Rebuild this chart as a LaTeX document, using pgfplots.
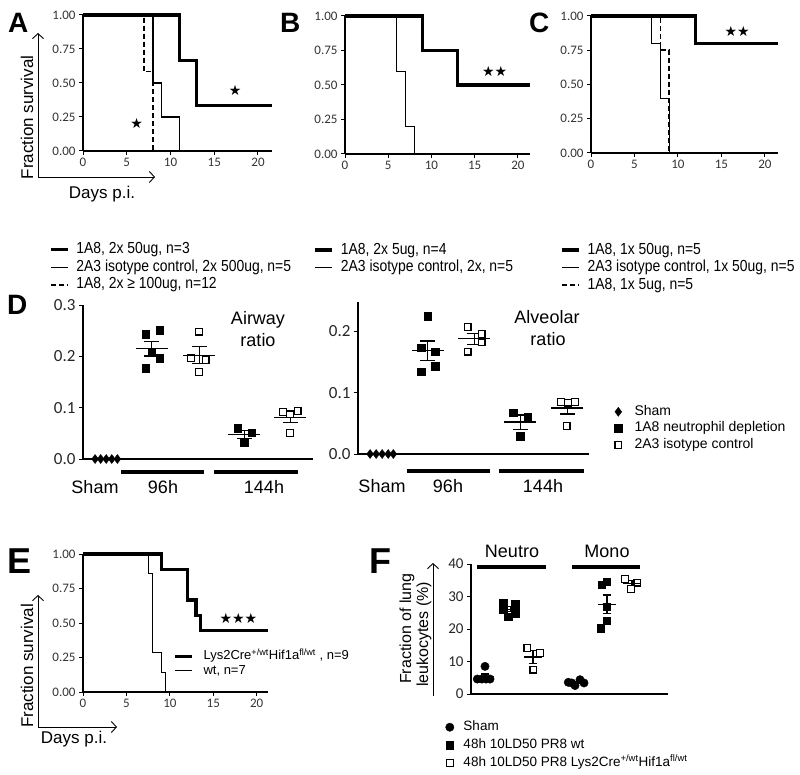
\documentclass[border=0pt]{standalone}
\usepackage{fontspec}
\usepackage{pgfplots}
\pgfplotsset{compat=1.18}
\usetikzlibrary{arrows.meta}
\setmainfont{Liberation Sans}
\newfontfamily\tickfont{Carlito}
\newfontfamily\narrowfont[FakeStretch=0.87]{Liberation Sans}
\newfontfamily\symfont{DejaVu Sans}
\newcommand{\fs}[1]{\fontsize{#1}{#1}\selectfont}

\pgfplotsset{
  baseax/.style={
    scale only axis, anchor=south west, clip=false,
    axis lines=left, axis line style={-, line width=1.1pt, black},
    tick align=outside, major tick length=4pt,
    tick style={line width=1pt, black},
    /pgf/number format/assume math mode=true,
    legend cell align=left,
  },
  surv/.style={
    baseax, xmin=0, ymin=0, ymax=1,
    xtick={0,5,10,15,20}, ytick={0,0.25,0.5,0.75,1},
    yticklabel style={/pgf/number format/fixed, /pgf/number format/fixed zerofill, /pgf/number format/precision=2},
    ticklabel style={font=\tickfont\fs{13}, text=black!80},
    legend style={draw=none, fill=none, inner sep=0pt, anchor=north west,
      font=\narrowfont\fs{16}, row sep=0.5pt,
      nodes={inner sep=1pt, text height=11.5pt, text depth=3.5pt},
      /tikz/every odd column/.append style={column sep=6pt}},
    legend image code/.code={\draw[#1] (0pt,0pt) -- (17pt,0pt);},
  },
  thk/.style={const plot, black, line width=3.2pt, mark=none},
  thn/.style={const plot, black, line width=1.1pt, mark=none},
  dsh/.style={const plot, black, line width=1.6pt, dash pattern=on 5pt off 3pt, mark=none},
  dotax/.style={
    baseax, xtick=\empty, ymin=0,
    yticklabel style={/pgf/number format/fixed, /pgf/number format/fixed zerofill, /pgf/number format/precision=1},
    ticklabel style={font=\tickfont\fs{17}, text=black!85},
    legend style={draw=none, fill=none, inner sep=0pt, anchor=north west,
      font=\fs{14}, row sep=2.5pt,
      nodes={inner sep=0.5pt, text height=10pt, text depth=3pt},
      /tikz/every odd column/.append style={column sep=12pt}},
    legend image code/.code={\draw[mark repeat=2, mark phase=2, #1] plot coordinates {(0pt,0pt) (5pt,0pt) (10pt,0pt)};},
  },
  shamD/.style={only marks, mark=diamond*, mark size=4.5pt, black},
  shamC/.style={only marks, mark=*, mark size=4.2pt, black},
  fillS/.style={only marks, mark=square*, mark size=3.7pt, black},
  openS/.style={only marks, mark=square*, mark size=3.4pt, mark options={fill=white, draw=black, line width=1.2pt}},
  meanbar/.style 2 args={only marks, forget plot, black, mark=-, mark size=#1, mark options={line width=1.3pt},
     error bars/.cd, y dir=both, y explicit, error bar style={line width=1.2pt, black},
     error mark options={black, line width=1.2pt, mark size=#2, rotate=90}},
}

\begin{document}
\begin{tikzpicture}
\useasboundingbox (0pt,0pt) rectangle (800pt,-775pt);

% ---------------- A
\begin{axis}[surv, at={(83pt,-151pt)}, width=189pt, height=136pt, xmax=21.6,
  legend style={at={(-0.18,-0.663)}}]
\addplot[thk] coordinates {(0,1) (11,0.6667) (13,0.3333) (21.6,0.3333)};
\addlegendentry{1A8, 2x 50ug, n=3}
\addplot[thn] coordinates {(0,1) (8,0.5) (9,0.25) (11,0)};
\addlegendentry{2A3 isotype control, 2x 500ug, n=5}
\addplot[dsh] coordinates {(0,1) (7,0.5833) (8,0)};
\addlegendentry{1A8, 2x ≥ 100ug, n=12}
\node[font=\symfont\fs{14}] at (axis cs:17.4,0.443) {★};
\node[font=\symfont\fs{14}] at (axis cs:6.13,0.2) {★};
\end{axis}

% ---------------- B
\begin{axis}[surv, at={(345pt,-154pt)}, width=185pt, height=138pt, xmax=21.4,
  legend style={at={(-0.17,-0.633)}}]
\addplot[thk] coordinates {(0,1) (9,0.75) (13,0.5) (21.4,0.5)};
\addlegendentry{1A8, 2x 5ug, n=4}
\addplot[thn] coordinates {(0,1) (6,0.6) (7,0.2) (8,0)};
\addlegendentry{2A3 isotype control, 2x, n=5}
\node[font=\symfont\fs{14}] at (axis cs:17.3,0.6) {★★};
\end{axis}

% ---------------- C
\begin{axis}[surv, at={(591pt,-153pt)}, width=187pt, height=137pt, xmax=21.5,
  legend style={at={(-0.165,-0.645)}}]
\addplot[thk] coordinates {(0,1) (12,0.8) (21.5,0.8)};
\addlegendentry{1A8, 1x 50ug, n=5}
\addplot[thn] coordinates {(0,1) (7,0.8) (8,0.4) (9,0)};
\addlegendentry{2A3 isotype control, 1x 50ug, n=5}
\addplot[dsh] coordinates {(0,1) (8,0.75) (9,0)};
\addlegendentry{1A8, 1x 5ug, n=5}
\node[font=\symfont\fs{14}] at (axis cs:16.8,0.885) {★★};
\end{axis}

% ---------------- D airway
\begin{axis}[dotax, at={(83pt,-459pt)}, width=230pt, height=154pt,
  xmin=-0.5, xmax=4.45, ymax=0.3, ytick={0,0.1,0.2,0.3}]
\addplot[shamD] coordinates {(-0.24,0) (-0.12,0) (0,0) (0.12,0) (0.24,0)};
\addplot[fillS] coordinates {(0.853,0.243) (1.146,0.251) (0.983,0.207) (1.146,0.196) (0.853,0.177)
  (2.83,0.060) (3.13,0.051) (2.97,0.032)};
\addplot[openS] coordinates {(2.0,0.248) (1.82,0.196) (2.14,0.193) (2.0,0.170)
  (3.81,0.092) (4.12,0.093) (3.96,0.087) (3.96,0.051)};
\addplot[meanbar={16pt}{7.5pt}] coordinates {(0.98,0.2148) +- (0,0.0141) (2.0,0.202) +- (0,0.0164)
  (2.97,0.0477) +- (0,0.0082) (3.96,0.081) +- (0,0.0101)};
\end{axis}

% ---------------- D alveolar
\begin{axis}[dotax, at={(358pt,-454pt)}, width=231pt, height=152pt,
  xmin=-0.52, xmax=4.45, ymax=0.248, ytick={0,0.1,0.2},
  legend style={at={(1.11,0.325)}}]
\addplot[shamD] coordinates {(-0.26,0) (-0.13,0) (0,0) (0.13,0) (0.24,0)};
\addlegendentry{Sham}
\addplot[fillS] coordinates {(0.98,0.225) (0.84,0.173) (1.14,0.167) (1.14,0.143) (0.84,0.134)
  (2.82,0.067) (3.13,0.060) (2.97,0.029)};
\addlegendentry{1A8 neutrophil depletion}
\addplot[openS] coordinates {(1.84,0.207) (2.14,0.196) (2.14,0.182) (1.84,0.167)
  (3.85,0.085) (4.15,0.085) (4.0,0.084) (3.97,0.046)};
\addlegendentry{2A3 isotype control}
\addplot[meanbar={16pt}{7.5pt}] coordinates {(0.98,0.1684) +- (0,0.0159) (1.98,0.188) +- (0,0.0087)
  (2.97,0.052) +- (0,0.0117) (3.98,0.075) +- (0,0.0097)};
\end{axis}

% ---------------- E
\begin{axis}[surv, at={(83pt,-692pt)}, width=185pt, height=138pt, xmax=21.3,
  legend style={at={(0.49,0.312)}, font=\fs{13}, row sep=0.5pt,
    nodes={inner sep=0.5pt, text height=10pt, text depth=3pt},
    /tikz/every odd column/.append style={column sep=9pt}}]
\addplot[thk] coordinates {(0,1) (9,0.8889) (12,0.6667) (13,0.5556) (13.5,0.4444) (21.3,0.4444)};
\addlegendentry{Lys2Cre\textsuperscript{+/wt}Hif1a\textsuperscript{fl/wt} , n=9}
\addplot[thn] coordinates {(0,1) (7.5,0.8571) (8,0.2857) (9,0.1429) (9.5,0)};
\addlegendentry{wt, n=7}
\node[font=\symfont\fs{14}] at (axis cs:17.9,0.536) {★★★};
\end{axis}

% ---------------- F
\begin{axis}[dotax, at={(471pt,-694pt)}, width=197pt, height=130pt,
  xmin=0, xmax=197, ymax=40, ytick={0,10,20,30,40},
  yticklabel style={/pgf/number format/precision=0},
  ticklabel style={font=\tickfont\fs{15}},
  legend style={at={(-0.13,-0.2)}, font=\fs{13.5}, row sep=4pt,
    /tikz/every odd column/.append style={column sep=9pt}}]
\addplot[shamC] coordinates {(6.3,4.6) (10.7,4.6) (15,4.6) (19,4.6) (14,8.5)
  (97.3,3.6) (100.7,3.4) (104,2.6) (109,4.4) (113,3.4)};
\addlegendentry{Sham}
\addplot[fillS] coordinates {(32.3,28.1) (44,27.6) (32.3,26.1) (44,24.9) (37.3,23.8)
  (130.7,33.6) (135.7,34.6) (135.7,26.9) (135.7,22.6) (129.7,20.3)};
\addlegendentry{48h 10LD50 PR8 wt}
\addplot[openS] coordinates {(56.3,14.1) (69,12.6) (62.3,7.5) (154,35.3) (166.3,34.3) (160,32.4)};
\addlegendentry{48h 10LD50 PR8 Lys2Cre\textsuperscript{+/wt}Hif1a\textsuperscript{fl/wt}}
\addplot[meanbar={9pt}{4pt}] coordinates {(14,5.38) +- (0,0.78) (40,26.1) +- (0,0.81) (62,11.4) +- (0,2.0)
  (107,3.44) +- (0,0.29) (136,27.6) +- (0,2.86) (161,34.0) +- (0,0.85)};
\end{axis}

% ---------------- annotations
\begin{scope}[x=1pt, y=-1pt]
\node[anchor=base west, font=\bfseries\fs{28}, inner sep=0pt] at (8,33) {A};
\node[anchor=base west, font=\bfseries\fs{28}, inner sep=0pt] at (280,33) {B};
\node[anchor=base west, font=\bfseries\fs{28}, inner sep=0pt] at (529,33) {C};
\node[anchor=base west, font=\bfseries\fs{28}, inner sep=0pt] at (7,315) {D};
\node[anchor=base west, font=\bfseries\fs{36}, inner sep=0pt] at (7,573) {E};
\node[anchor=base west, font=\bfseries\fs{36}, inner sep=0pt] at (369,573) {F};
% A axis arrows
\draw[line width=0.9pt, -{Straight Barb[length=5pt,width=11pt]}] (38,177) -- (38,33);
\draw[line width=0.9pt, -{Straight Barb[length=5pt,width=11pt]}] (38,177) -- (155,177);
\node[rotate=90, anchor=base, font=\fs{17}, inner sep=0pt] at (33,117.5) {Fraction survival};
\node[anchor=base, font=\fs{17}, inner sep=0pt] at (102,199) {Days p.i.};
% E axis arrows
\draw[line width=0.9pt, -{Straight Barb[length=5pt,width=11pt]}] (38,727) -- (38,595);
\draw[line width=0.9pt, -{Straight Barb[length=5pt,width=11pt]}] (38,727) -- (117,727);
\node[rotate=90, anchor=base, font=\fs{17}, inner sep=0pt] at (33,666) {Fraction survival};
\node[anchor=base, font=\fs{17}, inner sep=0pt] at (74,743) {Days p.i.};
% D group bars and labels
\draw[line width=3.5pt] (121,472) -- (204,472);
\draw[line width=3.5pt] (214,472) -- (298,472);
\draw[line width=3.5pt] (407,471) -- (490,471);
\draw[line width=3.5pt] (499,471) -- (584,471);
\node[anchor=base, font=\fs{18}, inner sep=0pt] at (95,493) {Sham};
\node[anchor=base, font=\fs{18}, inner sep=0pt] at (163,493) {96h};
\node[anchor=base, font=\fs{18}, inner sep=0pt] at (264,493) {144h};
\node[anchor=base, font=\fs{18}, inner sep=0pt] at (382,492) {Sham};
\node[anchor=base, font=\fs{18}, inner sep=0pt] at (448,492) {96h};
\node[anchor=base, font=\fs{18}, inner sep=0pt] at (543,492) {144h};
\node[anchor=base, font=\fs{18}, inner sep=0pt] at (258,325) {Airway};
\node[anchor=base, font=\fs{18}, inner sep=0pt] at (258,346) {ratio};
\node[anchor=base, font=\fs{18}, inner sep=0pt] at (547,324) {Alveolar};
\node[anchor=base, font=\fs{18}, inner sep=0pt] at (548,345) {ratio};
% F bars, labels, arrow
\draw[line width=4.5pt] (477,567) -- (546,567);
\draw[line width=4.5pt] (572,567) -- (640,567);
\node[anchor=base, font=\fs{18}, inner sep=0pt] at (512,557) {Neutro};
\node[anchor=base, font=\fs{18}, inner sep=0pt] at (607,557) {Mono};
\draw[line width=0.9pt, -{Straight Barb[length=5pt,width=11pt]}] (433,696) -- (433,563);
\node[rotate=90, anchor=base west, font=\fs{16}, inner sep=0pt] at (411,684) {Fraction of lung};
\node[rotate=90, anchor=base west, font=\fs{16}, inner sep=0pt] at (428,687) {leukocytes (\%)};
\end{scope}
\end{tikzpicture}
\end{document}
